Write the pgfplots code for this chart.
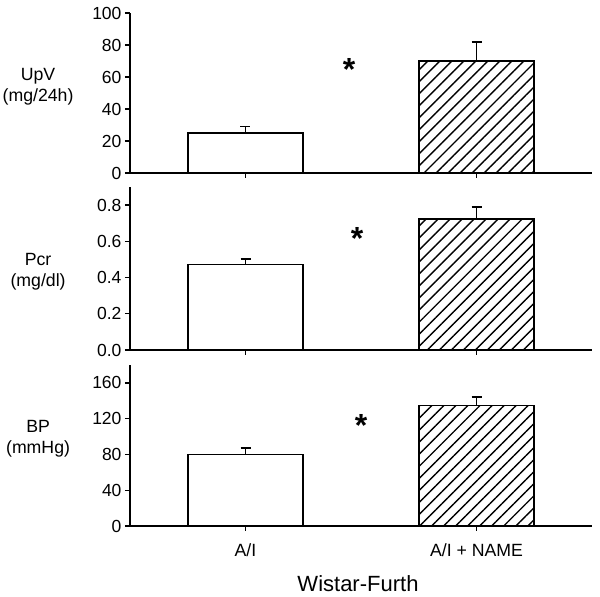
\documentclass[border=0pt]{standalone}
\usepackage{fontspec}
\setmainfont{Liberation Sans}
\usepackage{pgfplots}
\pgfplotsset{compat=1.18}
\usetikzlibrary{patterns.meta}

\tikzset{sigstar/.style={anchor=north, inner sep=0pt, font=\fontsize{32}{32}\selectfont\bfseries}}

\pgfplotsset{panel/.style={
  scale only axis, width=462pt, anchor=south west,
  xmin=-0.5, xmax=1.5, ymin=0,
  axis x line*=bottom, axis y line*=left,
  xtick={0,1}, xticklabels={},
  tick align=outside, major tick length=5pt,
  ytick style={line width=1.4pt, black},
  xtick style={line width=1pt, black},
  axis line style={line width=1.6pt},
  ybar, bar width=0.5, bar shift=0pt,
  ylabel style={rotate=-90, align=center, anchor=center, font=\fontsize{17.7}{21}\selectfont},
  tick label style={font=\fontsize{17.5}{20}\selectfont},
  /pgf/number format/assume math mode=true,
  clip=false,
},
whitebar/.style={fill=white, draw=black, line width=1.6pt,
  error bars/.cd, y dir=plus, y explicit,
  error bar style={line width=1.6pt, black},
  error mark=-,
  error mark options={rotate=90, line width=1.6pt, mark size=5pt, black}},
hatchbar/.style={pattern={Lines[angle=45,distance=8.5pt,line width=1.4pt]}, draw=black, line width=1.6pt,
  error bars/.cd, y dir=plus, y explicit,
  error bar style={line width=1.6pt, black},
  error mark=-,
  error mark options={rotate=90, line width=1.6pt, mark size=5pt, black}}
}

\begin{document}
\begin{tikzpicture}
\path[use as bounding box] (0,0) rectangle (600pt,597pt);

% Panel 1: UpV
\begin{axis}[panel, at={(130pt,424pt)}, height=160pt,
  ymax=100, ytick={0,20,40,60,80,100},
  ylabel={UpV\\(mg/24h)},
  ylabel style={at={(axis description cs:-0.199,0.54)}}]
\addplot[whitebar] coordinates {(0,25) +- (0,4)};
\addplot[hatchbar] coordinates {(1,70) +- (0,12)};
\node[sigstar] at (axis cs:0.448,72) {*};
\end{axis}

% Panel 2: Pcr
\begin{axis}[panel, at={(130pt,247pt)}, height=163pt,
  ymax=0.9, ytick={0,0.2,0.4,0.6,0.8},
  yticklabel style={/pgf/number format/.cd, fixed, fixed zerofill, precision=1},
  ylabel={Pcr\\(mg/dl)},
  ylabel style={at={(axis description cs:-0.199,0.48)}}]
\addplot[whitebar] coordinates {(0,0.473) +- (0,0.03)};
\addplot[hatchbar] coordinates {(1,0.722) +- (0,0.066)};
\node[sigstar] at (axis cs:0.483,0.68) {*};
\end{axis}

% Panel 3: BP
\begin{axis}[panel, at={(130pt,71pt)}, height=161pt,
  ymax=180, ytick={0,40,80,120,160},
  ylabel={BP\\(mmHg)},
  ylabel style={at={(axis description cs:-0.199,0.54)}},
  xticklabels={A/I, A/I + NAME},
  xticklabel style={yshift=-9pt, font=\fontsize{17.7}{20}\selectfont},
  xlabel={Wistar-Furth},
  xlabel style={at={(axis description cs:0.4935,-0.36)}, anchor=center, font=\fontsize{22}{26}\selectfont}]
\addplot[whitebar] coordinates {(0,80) +- (0,7)};
\addplot[hatchbar] coordinates {(1,134.5) +- (0,10)};
\node[sigstar] at (axis cs:0.5,125) {*};
\end{axis}
\end{tikzpicture}
\end{document}
